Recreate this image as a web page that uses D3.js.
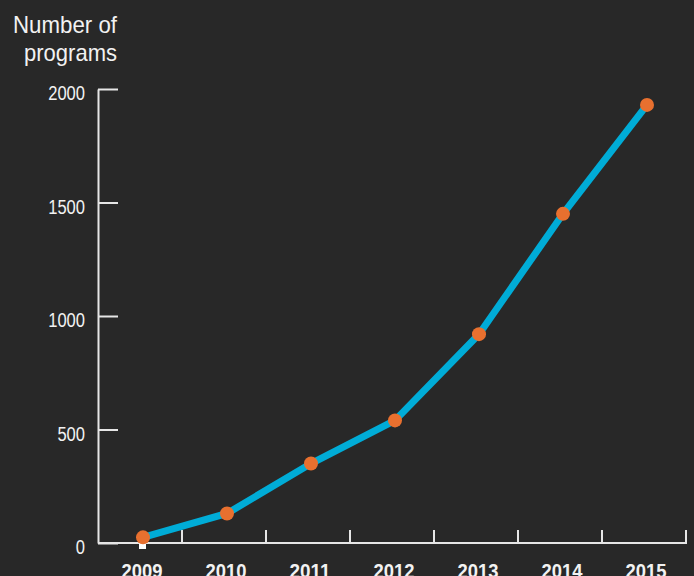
<!DOCTYPE html>
<html>
<head>
<meta charset="utf-8">
<script src="https://cdn.jsdelivr.net/npm/d3@7"></script>
<style>
  html, body { margin: 0; padding: 0; background: #282828; }
  svg { display: block; }
  text { font-family: "Liberation Sans", Arial, sans-serif; fill: #f2f2f2; }
</style>
</head>
<body>
<svg width="694" height="576"></svg>
<script>
var years = ["2009", "2010", "2011", "2012", "2013", "2014", "2015"];
var programs = [25, 130, 350, 540, 920, 1450, 1930];
var yTicks = [0, 500, 1000, 1500, 2000];
var titleLines = ["Number of", "programs"];

var svg = d3.select("svg"),
  width = +svg.attr("width"),
  height = +svg.attr("height");

svg.append("rect")
  .attr("width", width)
  .attr("height", height)
  .attr("fill", "#282828");

var x = d3.scaleBand().domain(years).range([98, 686]);
var y = d3.scaleLinear().domain([0, 2000]).range([543, 89]);
var axisColor = "#e6e6e6";

// y axis: ticks point right, labels on the left
var yAxis = svg.append("g")
  .attr("transform", "translate(98,0)")
  .call(d3.axisRight(y).tickValues(yTicks).tickSize(20).tickSizeOuter(0).tickFormat(""));
yAxis.select(".domain").attr("stroke", axisColor).attr("stroke-width", 2);
yAxis.selectAll(".tick line").attr("stroke", axisColor).attr("stroke-width", 2);

// condensed look: squeeze glyphs to the widths seen in the picture
svg.append("g").selectAll("text")
  .data(yTicks)
  .enter().append("text")
  .attr("x", 85)
  .attr("y", function(d) { return y(d) + 11; })
  .attr("text-anchor", "end")
  .attr("textLength", function(d) { return String(d).length * 9.2; })
  .attr("lengthAdjust", "spacingAndGlyphs")
  .style("font-size", "20px")
  .text(function(d) { return d; });

// x axis: line plus upward ticks at band edges
svg.append("line")
  .attr("x1", 98).attr("x2", 687)
  .attr("y1", y(0)).attr("y2", y(0))
  .attr("stroke", axisColor).attr("stroke-width", 2);

svg.append("g").selectAll("line")
  .data(years)
  .enter().append("line")
  .attr("x1", function(d) { return x(d) + x.bandwidth(); })
  .attr("x2", function(d) { return x(d) + x.bandwidth(); })
  .attr("y1", y(0) - 13)
  .attr("y2", y(0))
  .attr("stroke", axisColor).attr("stroke-width", 2);

svg.append("g").selectAll("text")
  .data(years)
  .enter().append("text")
  .attr("x", function(d) { return x(d) + x.bandwidth() / 2 + 2; })
  .attr("y", 578)
  .attr("text-anchor", "middle")
  .attr("textLength", 41)
  .attr("lengthAdjust", "spacingAndGlyphs")
  .style("font-size", "20px")
  .style("font-weight", "bold")
  .text(function(d) { return d; });

// title
svg.append("g").selectAll("text")
  .data(titleLines)
  .enter().append("text")
  .attr("x", 117)
  .attr("y", function(d, i) { return 33 + i * 28; })
  .attr("text-anchor", "end")
  .attr("textLength", function(d, i) { return i === 0 ? 104 : 93; })
  .attr("lengthAdjust", "spacingAndGlyphs")
  .style("font-size", "24px")
  .text(function(d) { return d; });

var px = function(d, i) { return x(years[i]) + x.bandwidth() / 2 + 3; };

// small white marker under first point
svg.append("rect")
  .attr("x", px(null, 0) - 4)
  .attr("y", y(0))
  .attr("width", 7)
  .attr("height", 6)
  .attr("fill", "#ffffff");

var line = d3.line()
  .x(px)
  .y(function(d) { return y(d); });

svg.append("path")
  .datum(programs)
  .attr("d", line)
  .attr("fill", "none")
  .attr("stroke", "#00acd7")
  .attr("stroke-width", 7);

svg.append("g").selectAll("circle")
  .data(programs)
  .enter().append("circle")
  .attr("cx", px)
  .attr("cy", function(d) { return y(d); })
  .attr("r", 7)
  .attr("fill", "#e8702f");
</script>
</body>
</html>
